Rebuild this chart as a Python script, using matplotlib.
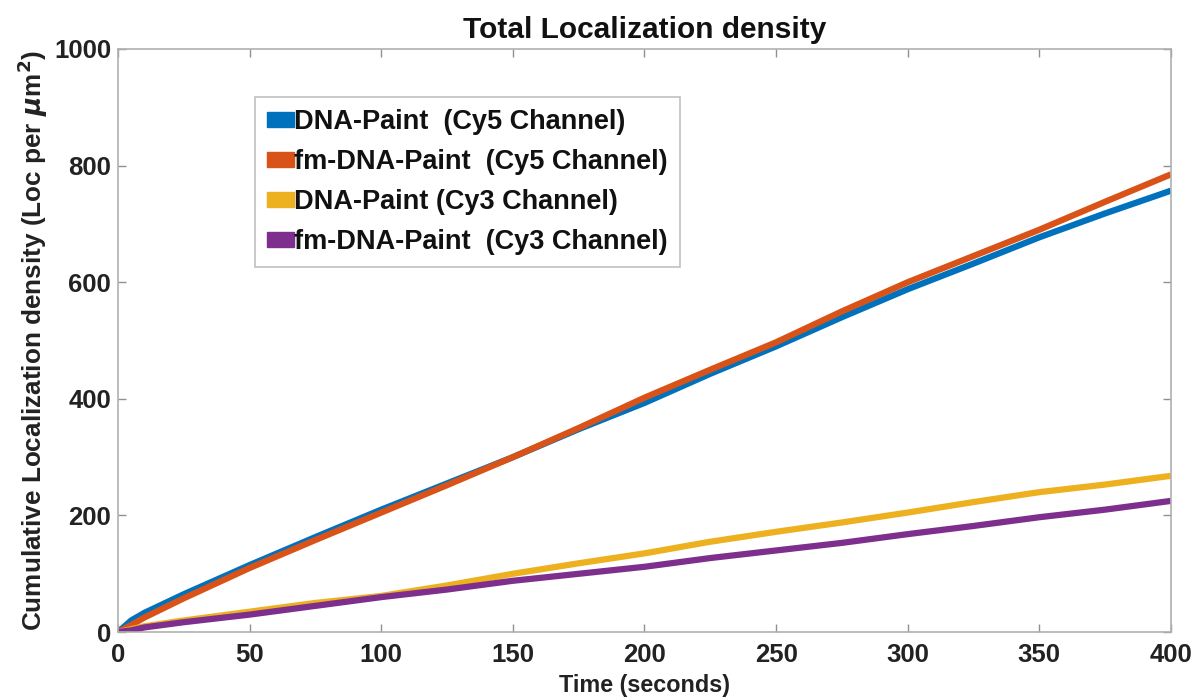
import matplotlib
matplotlib.use('Agg')
import matplotlib.pyplot as plt
from matplotlib.patches import Patch

plt.rcParams['font.family'] = ['Liberation Sans', 'DejaVu Sans']
plt.rcParams['font.weight'] = 'bold'

# time points (seconds)
t = [0, 5, 10, 25, 50, 75, 100, 125, 150, 175, 200, 225, 250, 275, 300, 325, 350, 375, 400]

dna_cy5 = [0, 20, 33, 65, 115, 163, 210, 255, 300, 348, 393, 443, 490, 540, 588, 632, 677, 718, 757]
fm_cy5 = [0, 12, 25, 58, 110, 158, 205, 252, 300, 350, 402, 450, 497, 550, 600, 645, 690, 738, 785]
dna_cy3 = [0, 5, 10, 20, 35, 50, 62, 80, 100, 118, 135, 155, 172, 188, 205, 223, 240, 253, 268]
fm_cy3 = [0, 3, 8, 17, 30, 45, 60, 73, 88, 100, 112, 127, 140, 153, 168, 182, 197, 210, 225]

labels = ['DNA-Paint  (Cy5 Channel)', 'fm-DNA-Paint  (Cy5 Channel)',
          'DNA-Paint (Cy3 Channel)', 'fm-DNA-Paint  (Cy3 Channel)']
colors = ['#0072BD', '#D95319', '#EDB120', '#7E2F8E']
series = [dna_cy5, fm_cy5, dna_cy3, fm_cy3]

fig = plt.figure(figsize=(11.96, 7), dpi=100)
ax = fig.add_axes([0.0987, 0.097, 0.8803, 0.833])

for y, c in zip(series, colors):
    ax.plot(t, y, color=c, lw=4.5, solid_capstyle='butt')

ax.set_xlim(0, 400)
ax.set_ylim(0, 1000)
ax.set_xticks(range(0, 401, 50))
ax.set_yticks(range(0, 1001, 200))

for s in ax.spines.values():
    s.set_color('#b0b0b0')
    s.set_linewidth(1.2)
ax.tick_params(direction='in', top=True, right=True, length=6, width=1,
               color='#909090', labelsize=18.5, labelcolor='#222222', pad=5)
ax.tick_params(axis='x', pad=8)

ax.set_title('Total Localization density', fontsize=21.5, fontweight='bold', color='#111111', pad=8)
ax.set_ylabel(r'Cumulative Localization density (Loc per $\mu$m$^2$)', fontsize=18.8,
              fontweight='bold', color='#222222', labelpad=3)
ax.set_xlabel('Time (seconds)', fontsize=16.8, fontweight='bold', color='#222222', labelpad=5)

handles = [Patch(facecolor=c, edgecolor=c) for c in colors]
leg = ax.legend(handles, labels, loc='upper left', bbox_to_anchor=(0.13, 0.918),
                fontsize=19.5, frameon=True, fancybox=False, handlelength=1.0,
                handleheight=0.5, handletextpad=0.0, labelspacing=0.52,
                borderpad=0.45, borderaxespad=0)
leg.get_frame().set_edgecolor('#b0b0b0')
leg.get_frame().set_linewidth(1.2)
for txt in leg.get_texts():
    txt.set_color('#111111')

fig.savefig('out.png', dpi=100)
